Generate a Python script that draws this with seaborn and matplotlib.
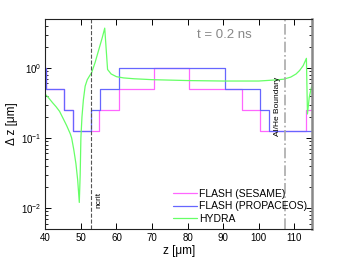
import numpy as np
import pandas as pd
import matplotlib
matplotlib.use("Agg")
import matplotlib.pyplot as plt
import seaborn as sns

# FLASH (SESAME) mesh spacing, step edges
sesame_z = [38, 40.3, 45.2, 47.7, 55.2, 60.6, 70.6, 80.5, 95.4, 100.4, 113.2, 117]
sesame_dz = [1.0, 0.5, 0.25, 0.125, 0.25, 0.5, 1.0, 0.5, 0.25, 0.125, 0.25, 0.25]

# FLASH (PROPACEOS)
propaceos_z = [38, 40.3, 45.2, 47.7, 52.8, 55.4, 60.8, 90.6, 100.4, 102.9, 117]
propaceos_dz = [1.0, 0.5, 0.25, 0.125, 0.25, 0.5, 1.0, 0.5, 0.25, 0.125, 0.125]

# HYDRA
hydra_z = [40.0, 41, 42, 43, 44, 45, 46, 47, 47.4, 48, 48.6, 49.1, 49.55,
           49.8, 50.0, 50.3, 50.7, 51.2, 51.8, 52.5, 53.0, 54, 55, 56, 56.7,
           57.5, 58.5, 60, 62, 65, 70, 80, 90, 100, 104, 107, 109, 110.5,
           111.5, 112.5, 113.4, 113.7, 114.2, 114.7, 115.2]
hydra_dz = [0.42, 0.37, 0.32, 0.28, 0.24, 0.19, 0.15, 0.115, 0.1, 0.068, 0.043, 0.025, 0.012,
            0.03, 0.1, 0.2, 0.35, 0.55, 0.68, 0.78, 0.85, 1.2, 1.8, 2.7, 3.7,
            0.95, 0.82, 0.75, 0.72, 0.70, 0.68, 0.66, 0.65, 0.65, 0.67, 0.69, 0.74, 0.82,
            0.92, 1.08, 1.37, 0.22, 0.38, 0.5, 0.6]

z_ncrit = 52.8
z_boundary = 107.5

sns.set_style("ticks")
plt.rcParams['font.family'] = ['Liberation Sans', 'DejaVu Sans']
plt.rcParams['mathtext.fontset'] = 'custom'
plt.rcParams['mathtext.rm'] = 'Liberation Sans'
plt.rcParams['mathtext.it'] = 'Liberation Sans:italic'
plt.rcParams['text.color'] = 'black'
plt.rcParams['axes.labelcolor'] = 'black'

fig = plt.figure(figsize=(3.46, 2.60), dpi=100)
ax = fig.add_axes([0.131, 0.119, 0.771, 0.808])

sesame = pd.DataFrame({'z': sesame_z, 'dz': sesame_dz})
propaceos = pd.DataFrame({'z': propaceos_z, 'dz': propaceos_dz})
hydra = pd.DataFrame({'z': hydra_z, 'dz': hydra_dz})

sns.lineplot(data=sesame, x='z', y='dz', ax=ax, color='#ff66ff', lw=0.9,
             drawstyle='steps-post', label='FLASH (SESAME)')
sns.lineplot(data=propaceos, x='z', y='dz', ax=ax, color='#6666ff', lw=0.9,
             drawstyle='steps-post', label='FLASH (PROPACEOS)')
sns.lineplot(data=hydra, x='z', y='dz', ax=ax, color='#66ff66', lw=0.9,
             label='HYDRA')

ax.axvline(z_ncrit, color='#555555', ls='--', lw=0.8)
ax.axvline(z_boundary, color='#aaaaaa', ls='-.', lw=1.2)

ax.set_yscale('log')
ax.set_xlim(40, 115)
ax.set_ylim(0.005, 5)
ax.set_xticks(np.arange(40, 111, 10))

ax.text(55.1, 0.013, 'ncrit', rotation=90, fontsize=6, ha='center', va='center')
ax.text(105.4, 0.286, 'Al/He Boundary', rotation=90, fontsize=6, ha='center', va='center')
ax.text(90.3, 2.96, 't = 0.2 ns', fontsize=9.5, color='#888888', ha='center', va='center')

ax.set_xlabel('z [μm]', fontsize=8.5, labelpad=1)
ax.set_ylabel('Δ z [μm]', fontsize=8.5, labelpad=2)
# matlab-like inward ticks on all four sides
ax.tick_params(which='both', direction='in', top=True, right=True, labelsize=7, pad=3,
               color='black', labelcolor='black')
ax.tick_params(which='major', length=4, width=0.7)
ax.tick_params(which='minor', length=2.2, width=0.6)
for s in ['left', 'bottom', 'top']:
    ax.spines[s].set_linewidth(0.8)
    ax.spines[s].set_color('#222222')
ax.spines['right'].set_linewidth(1.8)
ax.spines['right'].set_color('#888888')

ax.legend(loc='lower right', bbox_to_anchor=(1.01, -0.01), frameon=False, fontsize=7.5,
          handlelength=2.3, handletextpad=0.2, labelspacing=0.25, borderaxespad=0.3)

fig.savefig('out.png', dpi=100)
